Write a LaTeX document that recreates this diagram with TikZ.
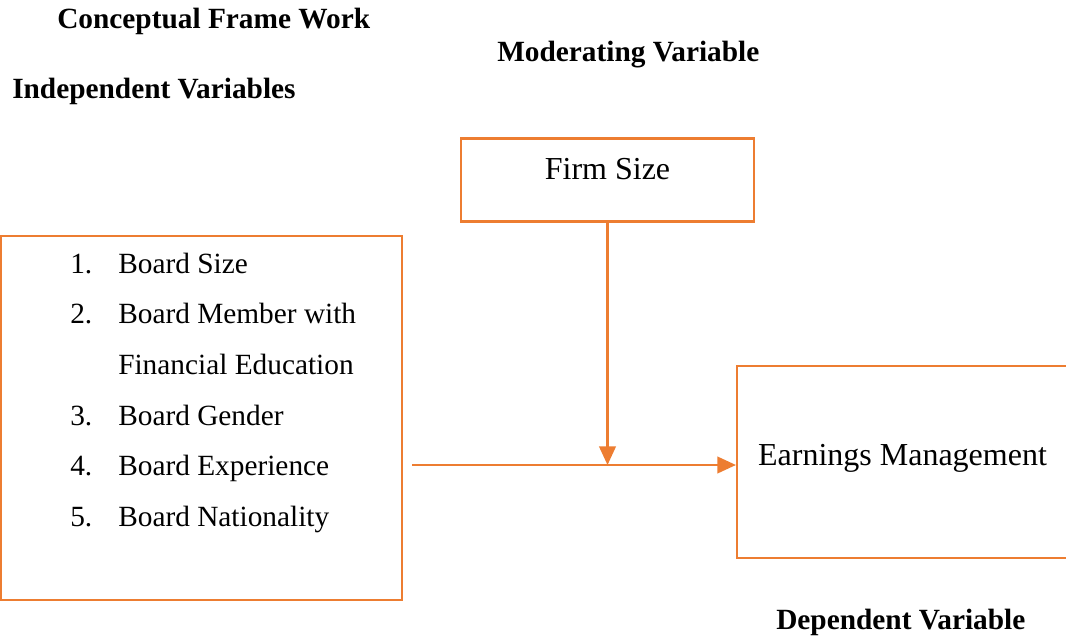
\documentclass[tikz,border=0pt]{standalone}
\usepackage{fontspec}
\setmainfont{Liberation Serif}
\usepackage{xcolor}
\usetikzlibrary{arrows.meta,positioning}
\definecolor{boxorange}{HTML}{ED7D31}

\begin{document}
\begin{tikzpicture}[x=0.75pt,y=-0.75pt]

        \tikzstyle{varbox}=[draw=boxorange,line width=1.6pt,inner sep=0pt,font=\fontsize{24}{28}\selectfont]
        \tikzstyle{heading}=[anchor=base west,inner sep=0pt,font=\fontsize{22}{26}\selectfont\bfseries]
        \tikzstyle{item}=[anchor=base west,inner sep=0pt,font=\fontsize{22}{26}\selectfont]
        \tikzstyle{link}=[draw=boxorange,line width=1.6pt,-{Triangle[length=14pt 0 0,width=12.5pt 0 0]}]

        \useasboundingbox (0,0) rectangle (1066,638);
        \clip (0,0) rectangle (1066,638);

        %% Headings
        \node[heading] (title) at (57,29) {Conceptual Frame Work};
        \node[heading] (modtitle) at (497,62) {Moderating Variable};
        \node[heading] (indtitle) at (12,99) {Independent Variables};
        \node[heading] (deptitle) at (776,629) {Dependent Variable};

        %% Boxes
        \node[varbox,minimum width=219.75pt,minimum height=62.25pt,
              label={[font=\fontsize{24}{28}\selectfont,below=12pt]north:Firm Size}] (fs) at (607.5,180) {};
        \node[varbox,minimum width=300.75pt,minimum height=273pt] (iv) at (201.5,418) {};
        \node[varbox,minimum width=248.25pt,minimum height=144pt,text depth=10pt] (em) at (902.5,462) {Earnings Management};

        %% List of independent variables
        \foreach \num/\txt [count=\i] in {1./Board Size, 2./Board Member with, {}/Financial Education,
                                          3./Board Gender, 4./Board Experience, 5./Board Nationality}
        {
            \node[item] (num\i) at (70,{222.3+50.7*\i}) {\num};
            \node[item] (txt\i) at (118,{222.3+50.7*\i}) {\txt};
        }

        %% Arrows
        \coordinate (start) at (412,465);
        \draw[link] (start) -- (em.west |- start);
        \draw[link] (fs.south) -- (fs.south |- start);

\end{tikzpicture}
\end{document}
